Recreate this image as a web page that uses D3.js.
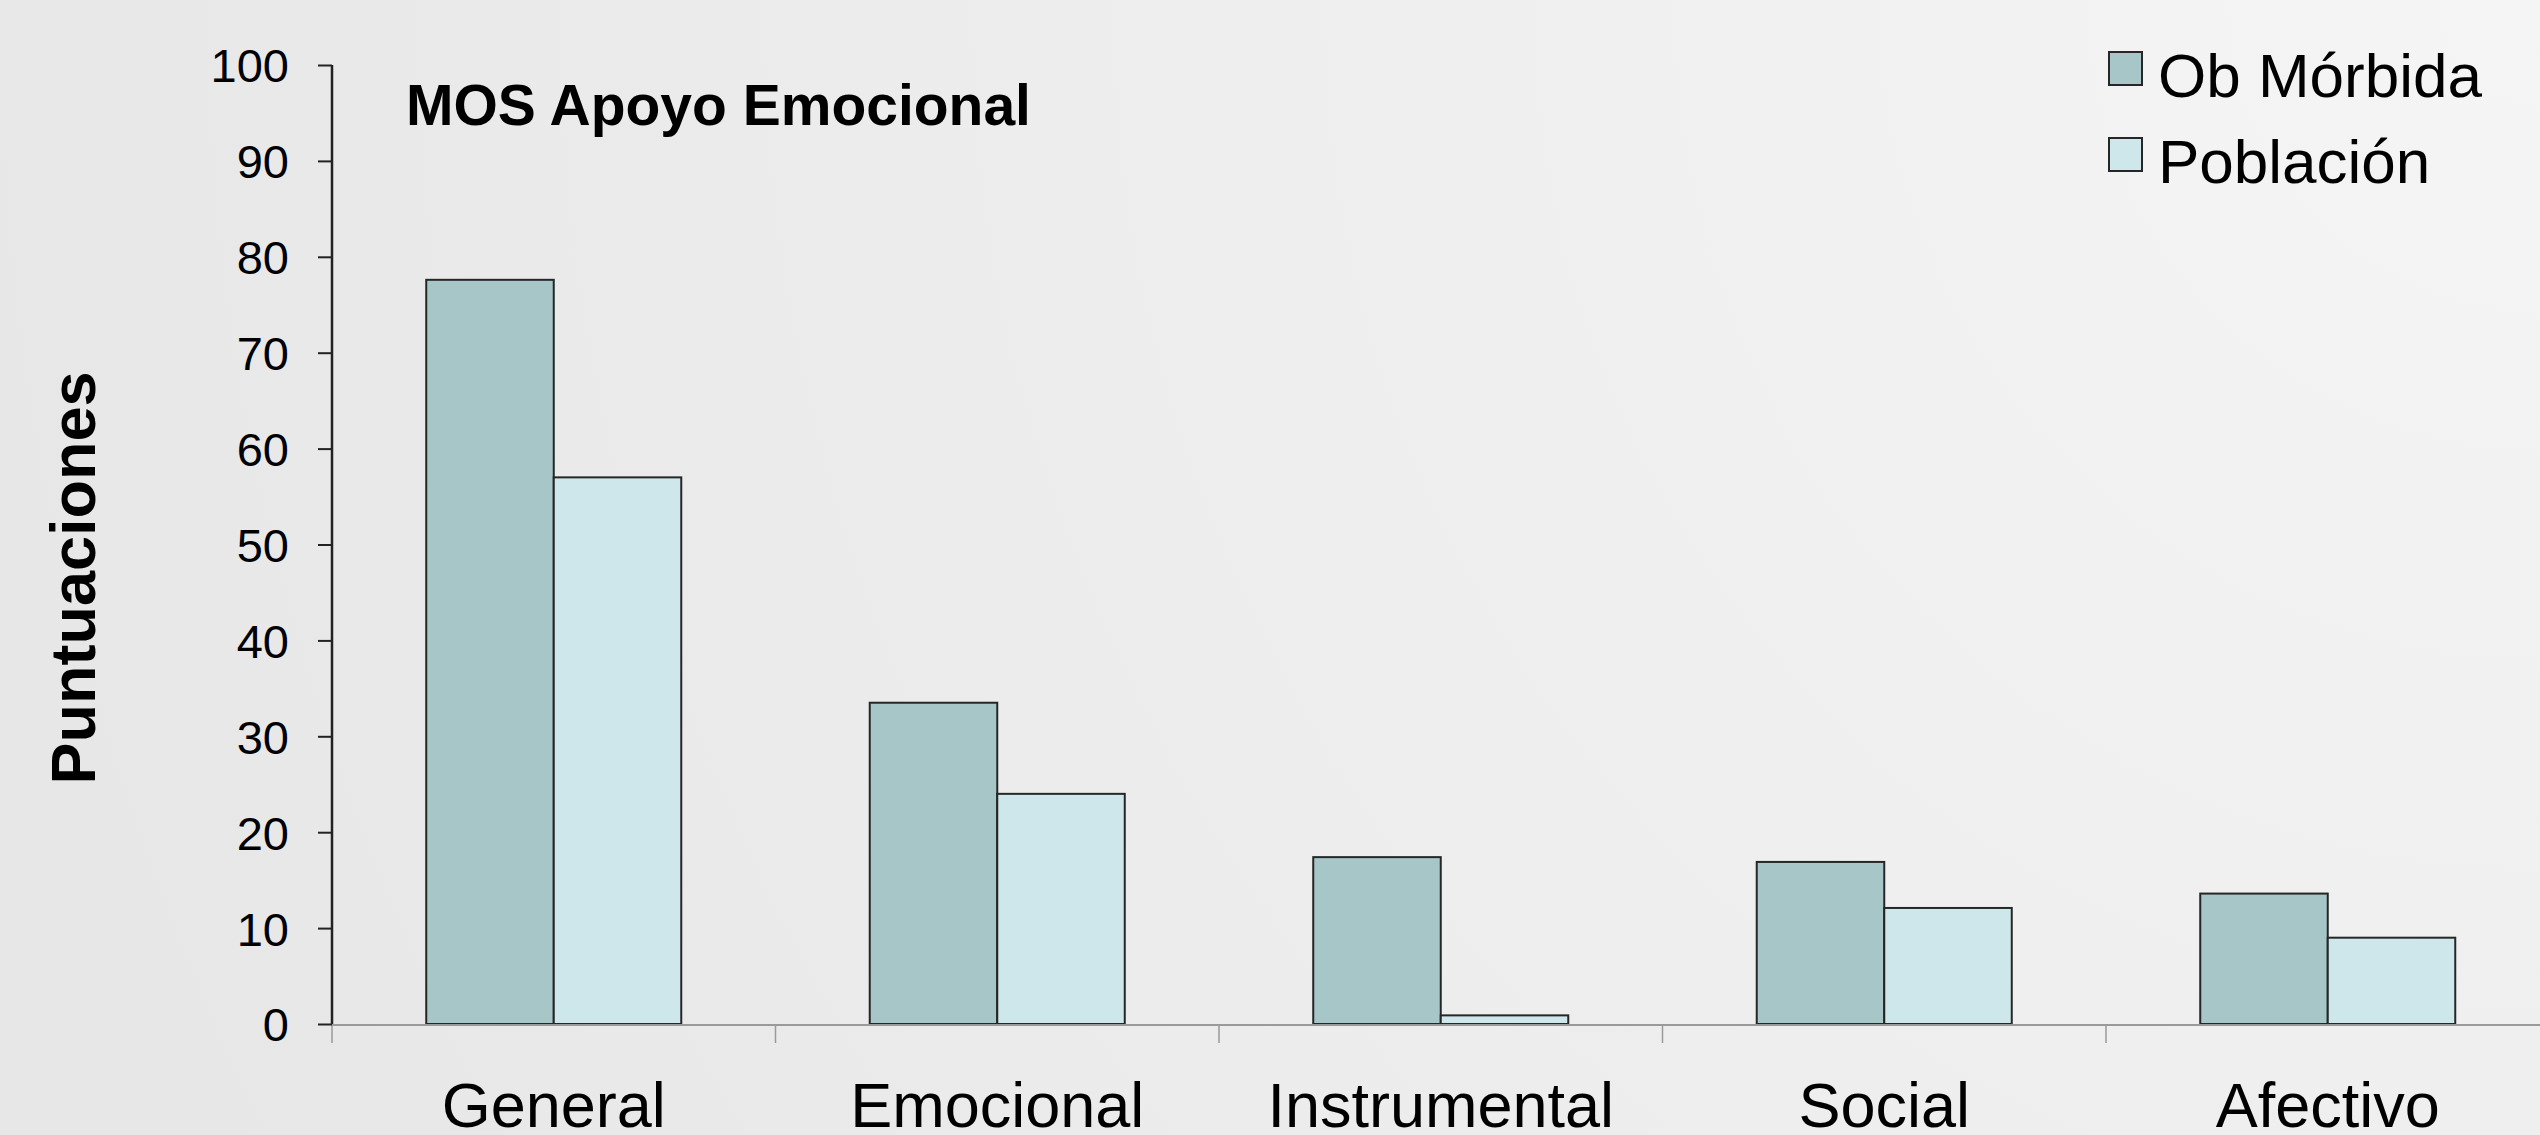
<!DOCTYPE html>
<html>
<head>
<meta charset="utf-8">
<script src="https://cdn.jsdelivr.net/npm/d3@7"></script>
<style>
  html, body { margin: 0; padding: 0; overflow: hidden; }
  body { width: 2540px; height: 1135px; }
  text { font-family: "Liberation Sans", Arial, Helvetica, sans-serif; fill: #000; }
</style>
</head>
<body>
<div id="chart"></div>
<script>
// data
var categories = ["General", "Emocional", "Instrumental", "Social", "Afectivo"];
var seriesNames = ["Ob Mórbida", "Población"];
var obMorbida = [77.6, 33.5, 17.4, 16.9, 13.6];
var poblacion = [57.0, 24.0, 0.9, 12.1, 9.0];
var yTicks = [0, 10, 20, 30, 40, 50, 60, 70, 80, 90, 100];
var colors = ["#a6c6c8", "#cee7ea"];

var width = 2540, height = 1135;

var svg = d3.select("#chart")
  .append("svg")
  .attr("width", width)
  .attr("height", height);

// background gradient, lighter at the top right
var defs = svg.append("defs");
var grad = defs.append("radialGradient")
  .attr("id", "bg")
  .attr("gradientUnits", "userSpaceOnUse")
  .attr("cx", 2540).attr("cy", 0).attr("r", 2600);
grad.append("stop").attr("offset", "0%").attr("stop-color", "#f5f5f5");
grad.append("stop").attr("offset", "100%").attr("stop-color", "#e7e7e7");

svg.append("rect")
  .attr("width", width)
  .attr("height", height)
  .attr("fill", "url(#bg)");

// scales
var x0 = d3.scaleBand()
  .domain(categories)
  .range([332, 332 + 5 * 443.5])
  .paddingInner(0.425)
  .paddingOuter(0.2125);

var x1 = d3.scaleBand()
  .domain(seriesNames)
  .range([0, x0.bandwidth()]);

var y = d3.scaleLinear()
  .domain([0, 100])
  .range([1024, 65]);

var rows = categories.map(function(c, i) {
  return { cat: c, values: [obMorbida[i], poblacion[i]] };
});

// bars
var groups = svg.selectAll(".group")
  .data(rows)
  .enter()
  .append("g")
  .attr("class", "group")
  .attr("transform", function(d) { return "translate(" + x0(d.cat) + ",0)"; });

groups.selectAll("rect")
  .data(function(d) {
    return d.values.map(function(v, j) { return { name: seriesNames[j], value: v, j: j }; });
  })
  .enter()
  .append("rect")
  .attr("x", function(d) { return x1(d.name); })
  .attr("y", function(d) { return y(d.value); })
  .attr("width", x1.bandwidth())
  .attr("height", function(d) { return y(0) - y(d.value); })
  .attr("fill", function(d) { return colors[d.j]; })
  .attr("stroke", "#262626")
  .attr("stroke-width", 2);

// x axis (gray line with ticks between categories)
var xAxis = svg.append("g")
  .attr("transform", "translate(0," + y(0) + ")");

xAxis.append("line")
  .attr("x1", 332).attr("x2", width)
  .attr("y1", 1).attr("y2", 1)
  .attr("stroke", "#9a9a9a")
  .attr("stroke-width", 2);

var boundaries = categories.map(function(c) { return x0(c) - x0.step() * x0.paddingOuter(); });
xAxis.selectAll(".xtick")
  .data(boundaries)
  .enter()
  .append("line")
  .attr("x1", function(d) { return d; })
  .attr("x2", function(d) { return d; })
  .attr("y1", 1).attr("y2", 19)
  .attr("stroke", "#9a9a9a")
  .attr("stroke-width", 1.5);

xAxis.selectAll(".xlabel")
  .data(categories)
  .enter()
  .append("text")
  .attr("x", function(d) { return x0(d) + x0.bandwidth() / 2; })
  .attr("y", 103)
  .attr("text-anchor", "middle")
  .style("font-size", "63px")
  .text(function(d) { return d; });

// y axis
var yAxis = svg.append("g")
  .attr("transform", "translate(332,0)")
  .call(d3.axisLeft(y).tickValues(yTicks).tickSize(14).tickPadding(29).tickFormat(d3.format("d")));

yAxis.select(".domain")
  .attr("d", "M0," + y(100) + "V" + y(0))
  .attr("stroke", "#222")
  .attr("stroke-width", 2.5);
yAxis.selectAll(".tick line")
  .attr("stroke", "#222")
  .attr("stroke-width", 2);
yAxis.selectAll(".tick text")
  .attr("dy", "0.36em")
  .style("font-family", "'Liberation Sans', Arial, sans-serif")
  .style("font-size", "47px")
  .attr("fill", "#000");

// y axis label
svg.append("text")
  .attr("transform", "translate(95,578) rotate(-90)")
  .attr("text-anchor", "middle")
  .style("font-size", "63px")
  .style("font-weight", "bold")
  .text("Puntuaciones");

// title inside plot
svg.append("text")
  .attr("x", 406)
  .attr("y", 125)
  .style("font-size", "57px")
  .style("font-weight", "bold")
  .text("MOS Apoyo Emocional");

// legend
var legend = svg.selectAll(".legend")
  .data(seriesNames)
  .enter()
  .append("g")
  .attr("class", "legend")
  .attr("transform", function(d, i) { return "translate(2109," + (52 + i * 86) + ")"; });

legend.append("rect")
  .attr("width", 33)
  .attr("height", 33)
  .attr("fill", function(d, i) { return colors[i]; })
  .attr("stroke", "#262626")
  .attr("stroke-width", 2);

legend.append("text")
  .attr("x", 49)
  .attr("y", 45)
  .style("font-size", "62px")
  .text(function(d) { return d; });
</script>
</body>
</html>
